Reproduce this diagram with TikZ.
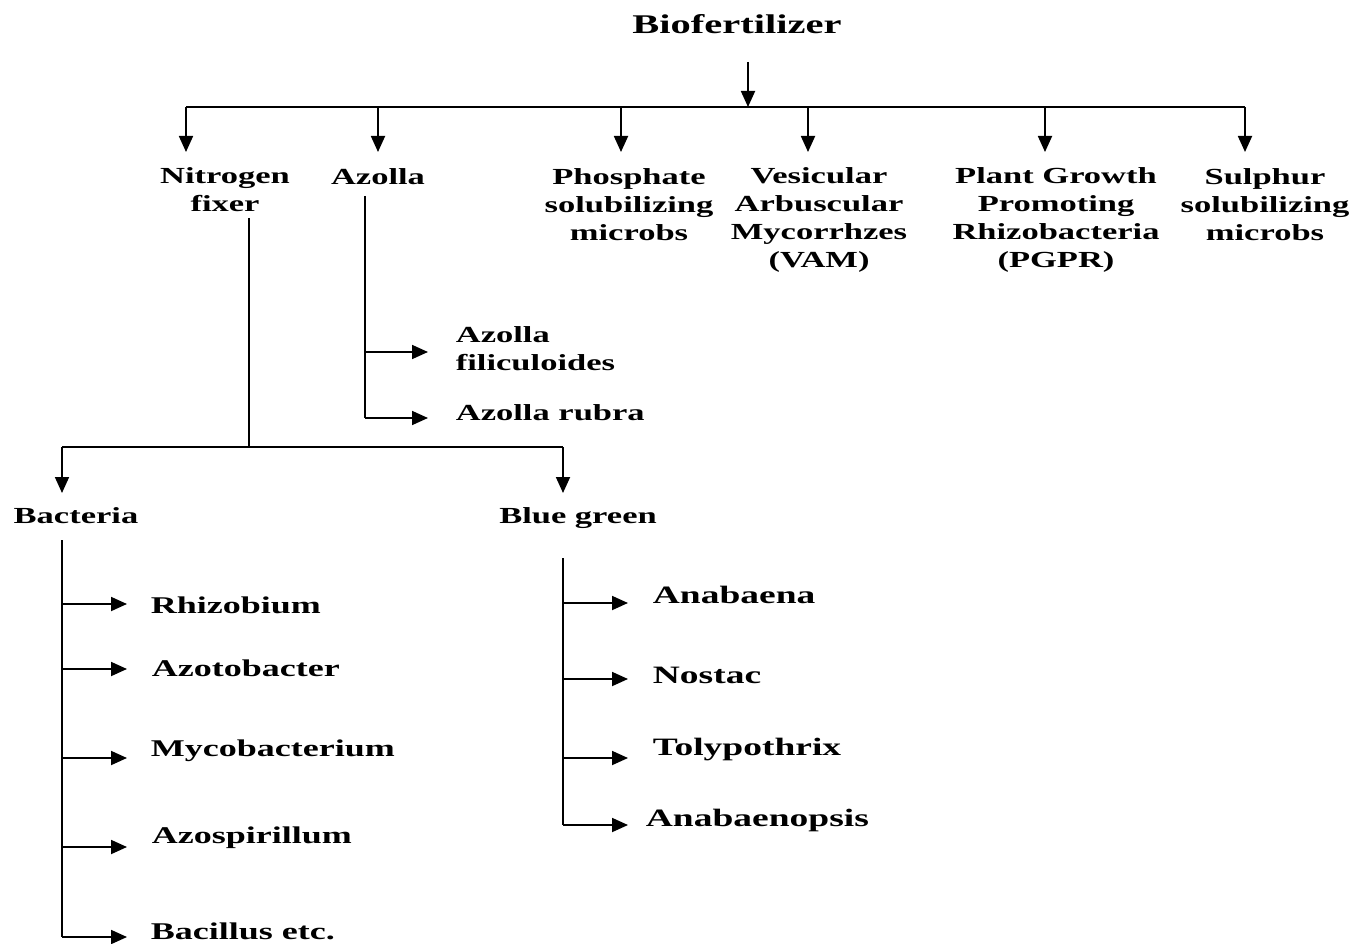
\documentclass[tikz,border=0pt]{standalone}
\usepackage{fontspec}
\setmainfont{Liberation Serif}[FakeStretch=1.5]
\usetikzlibrary{arrows.meta}
\tikzset{
  lbl/.style={inner sep=0pt, align=center},
  leaf/.style={inner sep=0pt, anchor=west, align=left},
  bleaf/.style={leaf, font=\fontsize{24}{28}\selectfont\bfseries},
  gleaf/.style={leaf, font=\fontsize{25}{28}\selectfont\bfseries},
  arr/.style={-{Triangle[length=16pt,width=14pt]}},
}
\begin{document}
\begin{tikzpicture}[x=1pt,y=-1pt,line width=1.8pt,
  font=\fontsize{23}{28}\selectfont\bfseries]
\useasboundingbox[fill=white] (0,0) rectangle (1368,944);
% top
\node[lbl,font=\fontsize{27}{32}\selectfont\bfseries] (bio) at (737,24) {Biofertilizer};
\node[lbl] (nf) at (225,190) {Nitrogen\\fixer};
\node[lbl] (az) at (378,177) {Azolla};
\node[lbl] (ps) at (629,205) {Phosphate\\solubilizing\\microbs};
\node[lbl] (vam) at (819,220) {Vesicular\\Arbuscular\\Mycorrhzes\\(VAM)};
\node[lbl] (pgpr) at (1056,220) {Plant Growth\\Promoting\\Rhizobacteria\\(PGPR)};
\node[lbl] (sul) at (1265,205) {Sulphur\\solubilizing\\microbs};
% azolla species
\node[leaf] (azf) at (455,349) {Azolla\\filiculoides};
\node[leaf] (azr) at (455,413) {Azolla rubra};
% second level
\node[lbl] (bac) at (76,516) {Bacteria};
\node[lbl] (bg) at (578,518) {Blue green};
% bacteria leaves
\node[bleaf] (rhi) at (150,605) {Rhizobium};
\node[bleaf] (azo) at (151,668) {Azotobacter};
\node[bleaf] (myc) at (150,751) {Mycobacterium};
\node[bleaf] (azs) at (151,838) {Azospirillum};
\node[bleaf] (bcl) at (150,931) {Bacillus etc.};
% blue green leaves
\node[gleaf] (ana) at (652,595) {Anabaena};
\node[gleaf] (nos) at (652,675) {Nostac};
\node[gleaf] (tol) at (652,750) {Tolypothrix};
\node[gleaf] (anp) at (645,820) {Anabaenopsis};

% top connectors
\coordinate (bioout) at (748,62);
\coordinate (bj) at (748,107);
\foreach \x [count=\i] in {186,378,621,808,1045,1245}{
  \coordinate (h\i) at (\x,107);
  \coordinate (e\i) at (\x,152);
  \draw[arr] (h\i) -- (e\i);
}
\draw (h1) -- (h6);
\draw[arr] (bioout) -- (bj);

% nitrogen fixer
\coordinate (nfs) at (249,218);
\coordinate (nfj) at (249,447);
\coordinate (bacj) at (62,447);
\coordinate (bgj) at (563,447);
\coordinate (bace) at (62,493);
\coordinate (bge) at (563,493);
\draw (nfs) -- (nfj);
\draw (bacj) -- (bgj);
\draw[arr] (bacj) -- (bace);
\draw[arr] (bgj) -- (bge);

% azolla
\coordinate (azst) at (365,196);
\coordinate (az1) at (365,352);
\coordinate (az2) at (365,418);
\coordinate (azt1) at (428,352);
\coordinate (azt2) at (428,418);
\draw (azst) -- (az2);
\draw[arr] (az1) -- (azt1);
\draw[arr] (az2) -- (azt2);

% bacteria
\coordinate (bacs) at (62,540);
\foreach \y [count=\i] in {604,669,758,847,937}{
  \coordinate (ba\i) at (62,\y);
  \coordinate (bt\i) at (127,\y);
  \draw[arr] (ba\i) -- (bt\i);
}
\draw (bacs) -- (ba5);

% blue green
\coordinate (bgs) at (563,558);
\foreach \y [count=\i] in {603,679,758,825}{
  \coordinate (ga\i) at (563,\y);
  \coordinate (gt\i) at (628,\y);
  \draw[arr] (ga\i) -- (gt\i);
}
\draw (bgs) -- (ga4);
\end{tikzpicture}
\end{document}
